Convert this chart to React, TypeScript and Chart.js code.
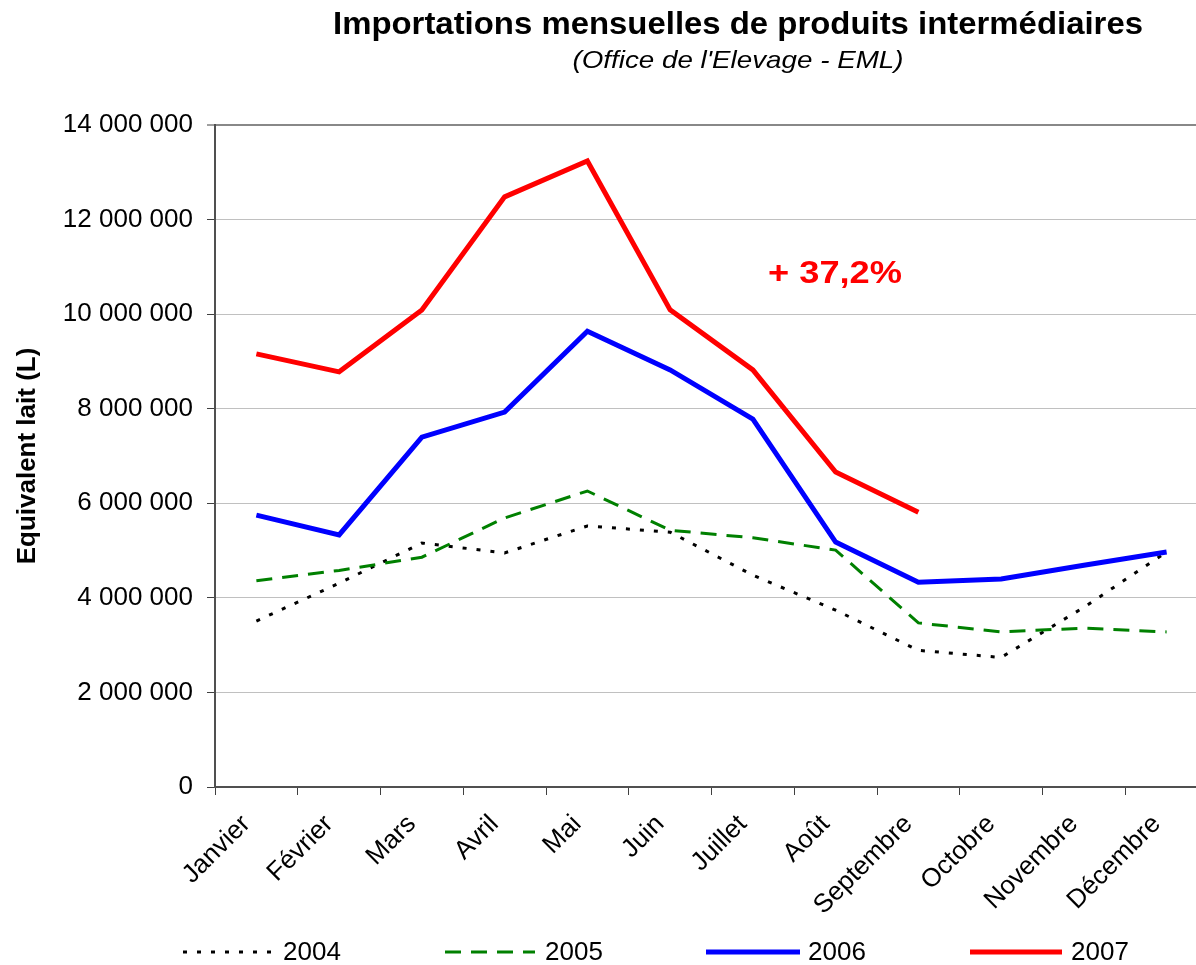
import React, { useEffect, useRef } from "react";
import { Chart, registerables } from "chart.js";

Chart.register(...registerables);

const months = ["Janvier", "Février", "Mars", "Avril", "Mai", "Juin", "Juillet", "Août", "Septembre", "Octobre", "Novembre", "Décembre"];
const values2004 = [3510000, 4310000, 5160000, 4950000, 5520000, 5390000, 4480000, 3740000, 2890000, 2740000, 3800000, 4970000];
const values2005 = [4360000, 4580000, 4860000, 5690000, 6260000, 5430000, 5270000, 5010000, 3470000, 3280000, 3360000, 3280000];
const values2006 = [5750000, 5330000, 7400000, 7930000, 9640000, 8820000, 7780000, 5180000, 4330000, 4400000, 4690000, 4970000];
const values2007 = [9160000, 8780000, 10090000, 12480000, 13240000, 10090000, 8820000, 6660000, 5810000, null, null, null];
const yTicks = [0, 2000000, 4000000, 6000000, 8000000, 10000000, 12000000, 14000000];

const titleText = "Importations mensuelles de produits intermédiaires";
const subtitleText = "(Office de l'Elevage - EML)";
const annotationText = "+ 37,2%";
const yAxisTitle = "Equivalent lait (L)";
const seriesNames = ["2004", "2005", "2006", "2007"];

const FONT = "'Liberation Sans', Arial, sans-serif";

const styles = [
  { color: "#000000", width: 3, dash: [4, 10] },
  { color: "#008000", width: 3, dash: [16, 10] },
  { color: "#0000FF", width: 5, dash: [] as number[] },
  { color: "#FF0000", width: 5, dash: [] as number[] },
];

function fmt(v: number): string {
  return String(v).replace(/\B(?=(\d{3})+(?!\d))/g, " ");
}

function drawFit(ctx: CanvasRenderingContext2D, text: string, cx: number, cy: number, font: string, width: number, color: string) {
  ctx.save();
  ctx.font = font;
  const w = ctx.measureText(text).width;
  ctx.translate(cx, cy);
  ctx.scale(width / w, 1);
  ctx.textAlign = "center";
  ctx.textBaseline = "middle";
  ctx.fillStyle = color;
  ctx.fillText(text, 0, 0);
  ctx.restore();
}

const decorPlugin = {
  id: "decor",
  afterDraw(chart: any) {
    const ctx: CanvasRenderingContext2D = chart.ctx;
    drawFit(ctx, titleText, 738, 25, `bold 31px ${FONT}`, 810, "#000");
    drawFit(ctx, subtitleText, 738, 61, `italic 24px ${FONT}`, 331, "#000");
    drawFit(ctx, annotationText, 835, 274, `bold 31px ${FONT}`, 134, "#FF0000");

    const legendItems = [
      { x0: 183, x1: 275, tx: 283 },
      { x0: 445, x1: 535, tx: 545 },
      { x0: 706, x1: 800, tx: 808 },
      { x0: 970, x1: 1062, tx: 1071 },
    ];
    const ly = 952;
    legendItems.forEach((it, i) => {
      const s = styles[i];
      ctx.save();
      ctx.strokeStyle = s.color;
      ctx.lineWidth = s.width;
      ctx.setLineDash(s.dash);
      ctx.lineCap = "butt";
      ctx.beginPath();
      ctx.moveTo(it.x0, ly);
      ctx.lineTo(it.x1, ly);
      ctx.stroke();
      ctx.restore();
      ctx.save();
      ctx.font = `26px ${FONT}`;
      ctx.fillStyle = "#000";
      ctx.textAlign = "left";
      ctx.textBaseline = "middle";
      ctx.fillText(seriesNames[i], it.tx, ly + 1);
      ctx.restore();
    });
  },
};

export default function App() {
  const ref = useRef<HTMLCanvasElement | null>(null);

  useEffect(() => {
    if (!ref.current) return;
    const series = [values2004, values2005, values2006, values2007];
    const chart = new Chart(ref.current, {
      type: "line",
      data: {
        labels: months,
        datasets: series.map((vals, i) => ({
          label: seriesNames[i],
          data: vals,
          borderColor: styles[i].color,
          backgroundColor: styles[i].color,
          borderWidth: styles[i].width,
          borderDash: styles[i].dash,
          pointRadius: 0,
          tension: 0,
          fill: false,
          spanGaps: false,
          order: 4 - i,
        })),
      },
      options: {
        responsive: false,
        animation: false,
        layout: { padding: { top: 125, left: 0, right: 8, bottom: 40 } },
        plugins: {
          legend: { display: false },
          title: { display: false },
          tooltip: { enabled: false },
        },
        scales: {
          x: {
            offset: true,
            grid: {
              offset: true,
              drawOnChartArea: false,
              drawTicks: true,
              tickLength: 8,
              tickColor: "#404040",
              tickWidth: 1,
            },
            border: { color: "#505050", width: 2 },
            ticks: {
              font: { family: FONT, size: 26 },
              color: "#000",
              minRotation: 45,
              maxRotation: 45,
              autoSkip: false,
              padding: 14,
              labelOffset: -10,
            },
            afterFit: (scale: any) => {
              scale.height = 138;
            },
          },
          y: {
            min: 0,
            max: 14000000,
            afterBuildTicks: (scale: any) => {
              scale.ticks = yTicks.map((v) => ({ value: v }));
            },
            grid: {
              color: (c: any) => (c.tick && c.tick.value === 14000000 ? "#888888" : "#c0c0c0"),
              lineWidth: (c: any) => (c.tick && c.tick.value === 14000000 ? 2 : 1),
              drawTicks: true,
              tickLength: 8,
              tickColor: "#404040",
              tickWidth: 1,
            },
            border: { color: "#505050", width: 2 },
            ticks: {
              font: { family: FONT, size: 26 },
              color: "#000",
              padding: 14,
              callback: (v: any) => fmt(Number(v)),
            },
            title: {
              display: true,
              text: yAxisTitle,
              font: { family: FONT, size: 26, weight: "bold" },
              color: "#000",
              padding: { top: 12, bottom: 0 },
            },
            afterFit: (scale: any) => {
              scale.width = 215;
            },
          },
        },
      },
      plugins: [decorPlugin],
    } as any);
    return () => chart.destroy();
  }, []);

  return (
    <div style={{ position: "fixed", left: 0, top: 0, width: 1196, height: 965, overflow: "hidden", background: "#fff" }}>
      <canvas ref={ref} width={1216} height={965} style={{ display: "block" }} />
    </div>
  );
}
